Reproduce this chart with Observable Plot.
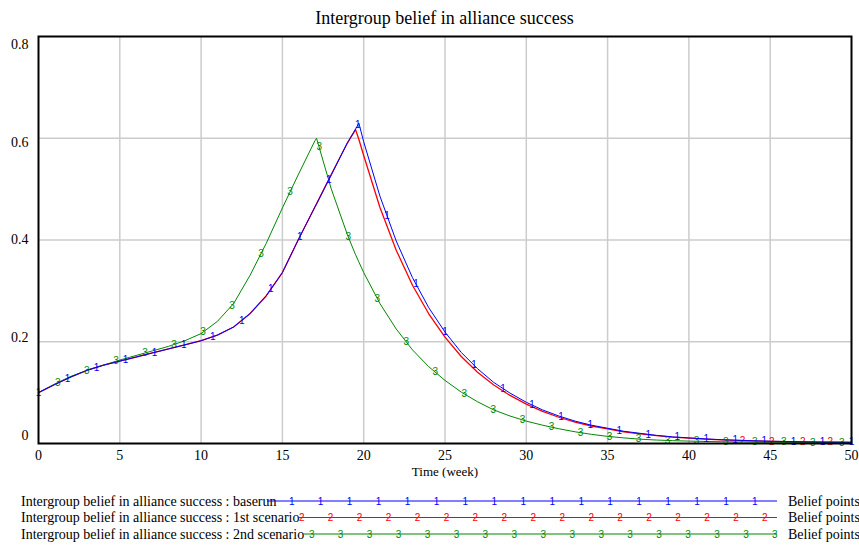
<!DOCTYPE html>
<html><head><meta charset="utf-8">
<script src="https://cdn.jsdelivr.net/npm/d3@7"></script>
<script src="https://cdn.jsdelivr.net/npm/@observablehq/plot@0.6"></script>
<style>
body{margin:0;background:#fff;font-family:'Liberation Serif','DejaVu Serif','Times New Roman',serif;}
#title{position:absolute;left:38px;width:813px;top:7px;text-align:center;font-size:18px;line-height:22px;color:#000;font-family:'Liberation Serif','DejaVu Serif',serif;}
#chart{position:absolute;left:0;top:28px;}
#legend{position:absolute;left:0;top:478px;}
#chart svg text.serif, #chart g.serif text{font-family:'Liberation Serif','DejaVu Serif',serif !important;}
</style></head><body>
<div id="title">Intergroup belief in alliance success</div>
<div id="chart"></div>
<div id="legend"></div>
<script>
// ---- data ----
const weeks = [0,1,2,3,4,5,6,7,8,9,10,11,12,13,14,15,16,17,17.1,18,19,19.5,19.7,
  20,21,22,23,24,25,26,27,28,29,30,31,32,33,34,35,36,37,38,39,40,41,42,43,44,45,46,47,48,49,50];
const baserun = [0.100,0.116,0.131,0.144,0.154,0.162,0.170,0.178,0.186,0.194,0.202,0.213,0.229,0.255,0.290,0.336,0.402,0.465,0.471,0.528,0.591,0.618,0.630,
  0.593,0.486,0.398,0.326,0.267,0.219,0.179,0.147,0.120,0.099,0.081,0.066,0.054,0.044,0.036,0.030,0.024,0.020,0.016,0.013,0.011,0.009,0.0075,0.0063,0.0053,0.0045,0.0039,0.0034,0.0030,0.0027,0.0025];
const scenario1 = [0.100,0.116,0.131,0.144,0.154,0.162,0.170,0.178,0.186,0.194,0.202,0.213,0.229,0.255,0.290,0.336,0.402,0.465,0.471,0.528,0.591,0.617,0.598,
  0.566,0.464,0.380,0.311,0.255,0.209,0.171,0.140,0.115,0.0945,0.0774,0.063,0.0516,0.042,0.0344,0.0287,0.023,0.019,0.0153,0.0124,0.0105,0.0086,0.0072,0.006,0.005,0.0043,0.0037,0.0032,0.0029,0.0026,0.0024];
const scenario2 = [0.100,0.117,0.132,0.144,0.154,0.164,0.173,0.182,0.191,0.202,0.216,0.240,0.275,0.330,0.393,0.463,0.530,0.595,0.600,0.501,0.410,0.371,0.357,
  0.336,0.275,0.225,0.184,0.151,0.124,0.101,0.082,0.066,0.054,0.044,0.036,0.029,0.023,0.018,0.014,0.011,0.0085,0.0068,0.0056,0.0047,0.004,0.0035,0.0031,0.0028,0.0026,0.0024,0.0022,0.0021,0.002,0.0019];

const seriesLabels = ["Intergroup belief in alliance success : baserun",
  "Intergroup belief in alliance success : 1st scenario",
  "Intergroup belief in alliance success : 2nd scenario"];
const seriesUnits = ["Belief points","Belief points","Belief points"];
const seriesMarks = ["1","2","3"];
const seriesColors = ["#0000ff","#ff0000","#008800"];
const xTicks = [0,5,10,15,20,25,30,35,40,45,50];
const yTicks = [0,0.2,0.4,0.6,0.8];
const xLabel = "Time (week)";

// marker positions along each line (weeks)
const markerTimes1 = d3.range(29).map(k => k * 50 / 28);
const markerTimes2 = [43.3, 45.1, 47.0, 48.7];
const markerTimes3 = d3.range(28).map(k => 1.19 + k * 50 / 28);

// ---- build tables ----
const allSeries = [baserun, scenario1, scenario2];
const rows = [];
allSeries.forEach((vals, i) => weeks.forEach((w, j) => rows.push({s: i, week: w, value: vals[j]})));
const bis = d3.bisector(d => d).left;
function valueAt(vals, t) {
  let j = bis(weeks, t);
  if (j <= 0) return vals[0];
  if (j >= weeks.length) return vals[vals.length - 1];
  const t0 = weeks[j-1], t1 = weeks[j];
  return vals[j-1] + (vals[j] - vals[j-1]) * (t - t0) / (t1 - t0);
}
const markers = [];
[markerTimes1, markerTimes2, markerTimes3].forEach((ts, i) =>
  ts.forEach(t => markers.push({s: i, week: t, value: valueAt(allSeries[i], t), text: seriesMarks[i]})));

const SANS = "Liberation Sans";
const lineFor = (i, w) => Plot.line(rows.filter(r => r.s === i), {x: "week", y: "value", stroke: seriesColors[i], strokeWidth: w});
const markFor = i => Plot.text(markers.filter(m => m.s === i), {x: "week", y: "value", text: "text", fill: seriesColors[i],
  fontSize: 10, fontFamily: SANS});

const chart = Plot.plot({
  width: 859, height: 450,
  marginTop: 8, marginLeft: 38, marginRight: 8, marginBottom: 35,
  style: {fontSize: "14px", background: "white", color: "black"},
  x: {domain: [0, 50]},
  y: {domain: [0, 0.8]},
  marks: [
    Plot.gridX(xTicks.slice(1, -1), {stroke: "#cccccc", strokeOpacity: 1, strokeWidth: 1.5}),
    Plot.gridY(yTicks.slice(1, -1), {stroke: "#cccccc", strokeOpacity: 1, strokeWidth: 1.5}),
    lineFor(1, 1.3),
    markFor(1),
    lineFor(2, 1),
    markFor(2),
    lineFor(0, 1),
    markFor(0),
    Plot.frame({stroke: "black", strokeWidth: 2}),
    ...yTicks.map(v => Plot.axisY([v], {tickSize: 0, tickPadding: 10, dy: (v - 0.4) * 20, label: null,
      tickFormat: d => String(d), fontSize: 14})),
    Plot.axisX(xTicks, {tickSize: 0, tickPadding: 7, label: null, fontSize: 14}),
    Plot.text([xLabel], {frameAnchor: "bottom", dy: 32, fontSize: 13})
  ]
});
document.getElementById("chart").append(chart);
// axis and label texts in a Times-like serif, as in the original
d3.select(chart).selectAll("g[aria-label='y-axis tick label'], g[aria-label='x-axis tick label']")
  .each(function() { this.classList.add("serif"); });
d3.select(chart).selectAll("g[aria-label='text']")
  .filter(function() { return d3.select(this).selectAll("text").size() === 1; })
  .each(function() { this.classList.add("serif"); });

// ---- legend ----
const lg = d3.select("#legend").append("svg").attr("width", 859).attr("height", 67)
  .style("font-family", "'Liberation Serif', serif");
const rowY = [23, 39.5, 56];
const lineStart = [267, 299, 303];
const markStart = [291.7, 301.7, 311.7];
seriesLabels.forEach((lab, i) => {
  const y = rowY[i];
  lg.append("text").attr("x", 21).attr("y", y).attr("dy", "0.35em").attr("font-size", 14).attr("fill", "#000").text(lab);
  lg.append("line").attr("x1", lineStart[i]).attr("x2", 777).attr("y1", y).attr("y2", y)
    .attr("stroke", seriesColors[i]).attr("stroke-width", 1.2);
  d3.range(17).forEach(k => lg.append("text").attr("x", markStart[i] + k * 28.95).attr("y", y).attr("dy", "0.35em")
    .attr("text-anchor", "middle").attr("font-size", 10).style("font-family", "'Liberation Sans', sans-serif")
    .attr("fill", seriesColors[i]).text(seriesMarks[i]));
  lg.append("text").attr("x", 788).attr("y", y).attr("dy", "0.35em").attr("font-size", 14).attr("fill", "#000").text(seriesUnits[i]);
});
</script>
</body></html>
